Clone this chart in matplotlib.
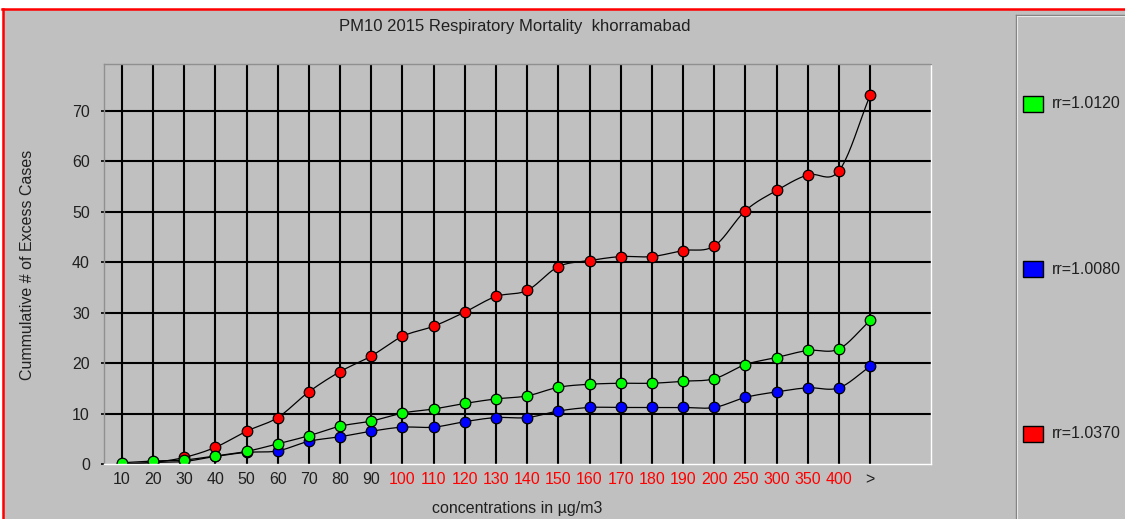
import numpy as np
import matplotlib
matplotlib.use("Agg")
import matplotlib.pyplot as plt
from matplotlib.patches import Rectangle
from matplotlib.lines import Line2D

plt.rcParams['font.family'] = ['Liberation Sans', 'DejaVu Sans']

categories = ["10", "20", "30", "40", "50", "60", "70", "80", "90", "100", "110", "120", "130",
              "140", "150", "160", "170", "180", "190", "200", "250", "300", "350", "400", ">"]
red_labels = {"100", "110", "120", "130", "140", "150", "160", "170", "180", "190", "200",
              "250", "300", "350", "400"}

rr_1_0120 = [0.25, 0.6, 0.8, 1.6, 2.5, 4.0, 5.6, 7.5, 8.5, 10.1, 10.9, 12.0, 12.9,
             13.5, 15.2, 15.8, 16.0, 16.0, 16.4, 16.9, 19.7, 21.1, 22.5, 22.8, 28.5]
rr_1_0080 = [0.0, 0.3, 0.5, 1.5, 2.3, 2.6, 4.5, 5.4, 6.5, 7.3, 7.3, 8.4, 9.2,
             9.2, 10.5, 11.2, 11.2, 11.2, 11.2, 11.2, 13.2, 14.3, 15.1, 15.1, 19.4]
rr_1_0370 = [0.0, 0.3, 1.3, 3.3, 6.5, 9.2, 14.3, 18.3, 21.4, 25.3, 27.3, 30.1, 33.2,
             34.4, 39.1, 40.3, 41.1, 41.1, 42.3, 43.2, 50.2, 54.2, 57.3, 58.1, 73.1]
series_labels = ["rr=1.0120", "rr=1.0080", "rr=1.0370"]
series_colors = ["#00FF00", "#0000FF", "#FF0000"]

title = "PM10 2015 Respiratory Mortality  khorramabad"
xlabel = "concentrations in \u00b5g/m3"
ylabel = "Cummulative # of Excess Cases"

W, H = 1125, 519
bg = "#C0C0C0"
fig = plt.figure(figsize=(W / 100, H / 100), dpi=100)
fig.patch.set_facecolor(bg)

def fx(px):
    return px / W

def fy(py):
    return 1 - py / H

# white margins
fig.patches.append(Rectangle((0, fy(8.5)), 1, 8.5 / H, transform=fig.transFigure,
                             facecolor="white", edgecolor="none", zorder=-5))
fig.patches.append(Rectangle((0, 0), 2.5 / W, 1, transform=fig.transFigure,
                             facecolor="white", edgecolor="none", zorder=-5))
# red border
fig.add_artist(Line2D([fx(2), 1], [fy(8.5), fy(8.5)], transform=fig.transFigure, color="red", lw=1.8))
fig.add_artist(Line2D([fx(2.5), fx(2.5)], [fy(8.5), 0], transform=fig.transFigure, color="red", lw=1.8))

# legend panel
fig.add_artist(Line2D([fx(1016), fx(1016)], [fy(15), 0], transform=fig.transFigure, color="#808080", lw=1))
fig.add_artist(Line2D([fx(1016), 1], [fy(15), fy(15)], transform=fig.transFigure, color="#808080", lw=1))
fig.add_artist(Line2D([fx(1017), fx(1017)], [fy(16), 0], transform=fig.transFigure, color="#E8E8E8", lw=0.8))
fig.add_artist(Line2D([fx(1017), 1], [fy(16), fy(16)], transform=fig.transFigure, color="#E8E8E8", lw=0.8))
leg_y = [104, 269, 434]
for lab, col, yy in zip(series_labels, series_colors, leg_y):
    fig.patches.append(Rectangle((fx(1023), fy(yy + 8)), 20 / W, 16 / H, transform=fig.transFigure,
                                 facecolor=col, edgecolor="black", lw=1, zorder=3))
    fig.text(fx(1052), fy(yy), lab, fontsize=11.5, va="center", ha="left", color="#202020")

# axes
left, right, top, bottom = 104, 931, 64.3, 464
ax = fig.add_axes([fx(left), fy(bottom), (right - left) / W, (bottom - top) / H])
ax.set_facecolor(bg)
x = np.arange(len(categories))
ax.set_xlim(-0.57, 25.95)
ax.set_ylim(0, 79.2)

for xi in x:
    ax.axvline(xi, color="black", lw=1.5, zorder=1)
for yv in range(10, 80, 10):
    ax.axhline(yv, color="black", lw=1.5, zorder=1)


def catmull(xs, ys, n=20):
    xs = np.asarray(xs, float)
    ys = np.asarray(ys, float)
    px = np.concatenate([[2 * xs[0] - xs[1]], xs, [2 * xs[-1] - xs[-2]]])
    py = np.concatenate([[2 * ys[0] - ys[1]], ys, [2 * ys[-1] - ys[-2]]])
    outx, outy = [], []
    t = np.linspace(0, 1, n, endpoint=False)
    for i in range(1, len(px) - 2):
        p0, p1, p2, p3 = py[i - 1], py[i], py[i + 1], py[i + 2]
        q0, q1, q2, q3 = px[i - 1], px[i], px[i + 1], px[i + 2]
        fy_ = 0.5 * ((2 * p1) + (-p0 + p2) * t + (2 * p0 - 5 * p1 + 4 * p2 - p3) * t ** 2 + (-p0 + 3 * p1 - 3 * p2 + p3) * t ** 3)
        fx_ = 0.5 * ((2 * q1) + (-q0 + q2) * t + (2 * q0 - 5 * q1 + 4 * q2 - q3) * t ** 2 + (-q0 + 3 * q1 - 3 * q2 + q3) * t ** 3)
        outx.extend(fx_)
        outy.extend(fy_)
    outx.append(xs[-1])
    outy.append(ys[-1])
    return np.array(outx), np.array(outy)

order = [(rr_1_0080, "#0000FF"), (rr_1_0370, "#FF0000"), (rr_1_0120, "#00FF00")]
for vals, col in order:
    sx, sy = catmull(x, vals)
    ax.plot(sx, sy, color="black", lw=0.9, zorder=2)
for k, (vals, col) in enumerate(order):
    ax.plot(x, vals, ls="none", marker="o", ms=7.6, mfc=col, mec="black", mew=0.9, zorder=3 + k * 0.1)

ax.spines["top"].set_color("#909090")
ax.spines["left"].set_color("#909090")
ax.spines["bottom"].set_color("white")
ax.spines["right"].set_color("white")
for s in ax.spines.values():
    s.set_linewidth(1)
    s.set_zorder(4)

ax.set_xticks(x)
ax.set_xticklabels(categories, fontsize=11.5)
for lbl in ax.get_xticklabels():
    lbl.set_color("red" if lbl.get_text() in red_labels else "#202020")
ax.set_yticks(range(0, 80, 10))
ax.set_yticklabels([str(v) for v in range(0, 80, 10)], fontsize=11.5, color="#202020")
ax.tick_params(axis="x", length=0, pad=6)
ax.tick_params(axis="y", length=2.2, width=1.2, color="black", pad=8)

fig.text(fx(515), fy(27), title, fontsize=12, ha="center", va="center", color="#202020")
fig.text(fx(517), fy(508), xlabel, fontsize=11.5, ha="center", va="center", color="#202020")
fig.text(fx(28), fy(265), ylabel, fontsize=11.5, ha="center", va="center", rotation=90, color="#202020")

fig.savefig("out.png", dpi=100, facecolor=fig.get_facecolor())
